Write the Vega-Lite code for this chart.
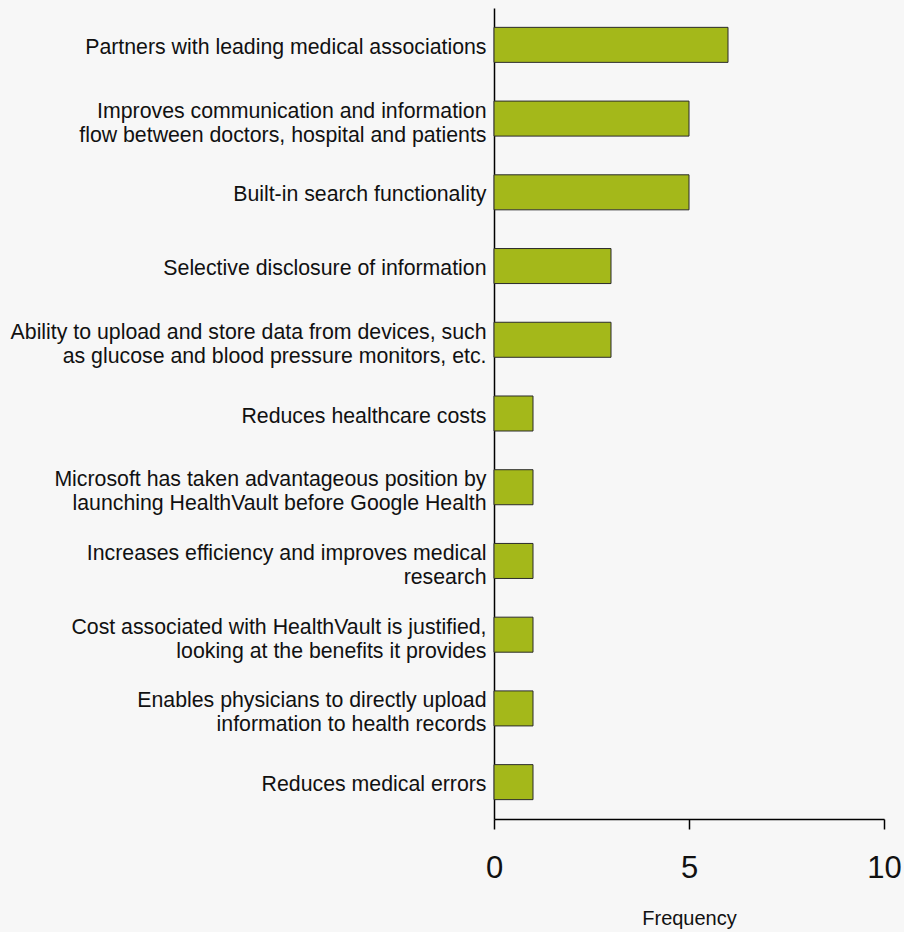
{
  "$schema": "https://vega.github.io/schema/vega-lite/v6.json",
  "autosize": "none",
  "padding": {"left": 494, "top": 8, "right": 20, "bottom": 113},
  "width": 390,
  "height": 811,
  "background": "#f7f7f7",
  "data": {
    "values": [
      {"benefit": "Partners with leading medical associations", "frequency": 6},
      {"benefit": "Improves communication and information|flow between doctors, hospital and patients", "frequency": 5},
      {"benefit": "Built-in search functionality", "frequency": 5},
      {"benefit": "Selective disclosure of information ", "frequency": 3},
      {"benefit": "Ability to upload and store data from devices, such|as glucose and blood pressure monitors, etc.", "frequency": 3},
      {"benefit": "Reduces healthcare costs", "frequency": 1},
      {"benefit": "Microsoft has taken advantageous position by|launching HealthVault before Google Health", "frequency": 1},
      {"benefit": "Increases efficiency and improves medical|research", "frequency": 1},
      {"benefit": "Cost associated with HealthVault is justified,|looking at the benefits it provides", "frequency": 1},
      {"benefit": "Enables physicians to directly upload|information to health records", "frequency": 1},
      {"benefit": "Reduces medical errors", "frequency": 1}
    ]
  },
  "mark": {"type": "bar", "color": "#a4b81a", "stroke": "#2b2b2b", "strokeWidth": 1},
  "encoding": {
    "y": {
      "field": "benefit",
      "type": "nominal",
      "sort": null,
      "scale": {"paddingInner": 0.525, "paddingOuter": 0.2625},
      "axis": {
        "title": null,
        "ticks": false,
        "domainColor": "#000000",
        "domainWidth": 1.5,
        "labelFont": "Liberation Sans",
        "labelFontSize": 21.3,
        "labelColor": "#111111",
        "labelPadding": 8,
        "labelLimit": 0,
        "labelLineHeight": 24,
        "labelOffset": {"condition": {"test": "indexof(datum.value, '|') >= 0", "value": -7}, "value": 3},
        "labelExpr": "split(datum.label, '|')"
      }
    },
    "x": {
      "field": "frequency",
      "type": "quantitative",
      "scale": {"domain": [0, 10], "nice": false},
      "axis": {
        "title": "Frequency",
        "values": [0, 5, 10],
        "grid": false,
        "domainColor": "#000000",
        "domainWidth": 1.5,
        "tickColor": "#000000",
        "tickWidth": 1.5,
        "tickSize": 10,
        "labelFont": "Liberation Sans",
        "labelFontSize": 31,
        "labelColor": "#111111",
        "labelPadding": 24,
        "labelFlush": false,
        "titleFont": "Liberation Sans",
        "titleFontSize": 20,
        "titleFontWeight": "normal",
        "titleColor": "#111111",
        "titlePadding": 25
      }
    }
  },
  "config": {"view": {"stroke": null}}
}
